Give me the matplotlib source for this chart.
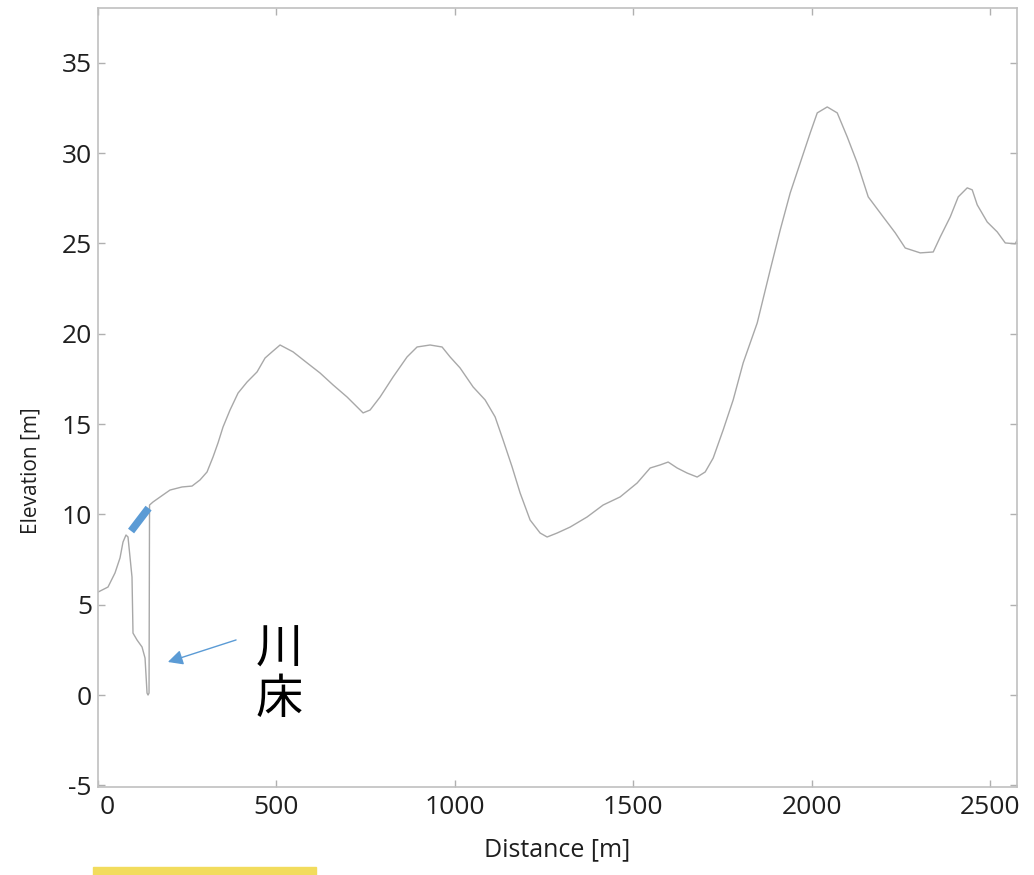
import numpy as np
import matplotlib.pyplot as plt
import matplotlib.patches as mpatches
import matplotlib.transforms as mtransforms

# elevation profile across the valley
distance = [1.4, 29.4, 49.0, 63.0, 71.4, 79.8, 85.4, 96.6, 99.4, 110.6, 124.7, 133.1, 138.7,
            141.5, 144.3, 145.7, 155.5, 183.5, 203.1, 236.7, 264.7, 287.1, 306.7, 323.5,
            337.5, 351.5, 371.1, 393.6, 418.8, 446.8, 469.2, 488.8, 511.2, 547.6, 586.8,
            623.2, 659.6, 698.9, 726.9, 743.7, 763.3, 791.3, 827.7, 866.9, 894.9, 931.3,
            964.9, 987.3, 1015.3, 1051.7, 1085.4, 1113.4, 1135.8, 1161.0, 1183.4, 1211.4,
            1239.5, 1259.1, 1287.1, 1323.5, 1371.1, 1415.9, 1463.6, 1511.2, 1547.6, 1575.6,
            1598.0, 1623.2, 1651.2, 1679.2, 1701.7, 1724.1, 1752.1, 1780.1, 1808.1, 1847.4,
            1883.8, 1911.8, 1939.8, 1967.8, 1995.8, 2015.5, 2043.5, 2071.5, 2099.5, 2127.5,
            2158.3, 2200.3, 2233.9, 2261.9, 2303.9, 2340.3, 2359.9, 2387.9, 2410.3, 2435.5,
            2449.5, 2463.5, 2491.5, 2519.6, 2542.0, 2570.0, 2575.6]
elevation = [5.70, 5.98, 6.76, 7.59, 8.47, 8.86, 8.75, 6.53, 3.43, 3.05, 2.66, 2.05, 0.11,
             0.0, 0.11, 10.52, 10.69, 11.08, 11.35, 11.52, 11.57, 11.91, 12.35, 13.18,
             13.96, 14.84, 15.78, 16.72, 17.33, 17.89, 18.66, 19.00, 19.38, 19.00, 18.39,
             17.83, 17.17, 16.50, 15.95, 15.62, 15.78, 16.50, 17.61, 18.72, 19.27, 19.38,
             19.27, 18.72, 18.11, 17.06, 16.34, 15.40, 14.12, 12.63, 11.19, 9.69,
             8.97, 8.75, 8.97, 9.30, 9.86, 10.52, 10.97, 11.74, 12.57, 12.74,
             12.90, 12.57, 12.29, 12.07, 12.35, 13.12, 14.68, 16.34, 18.39, 20.60,
             23.54, 25.75, 27.80, 29.46, 31.12, 32.23, 32.56, 32.23, 30.90, 29.46,
             27.58, 26.47, 25.59, 24.75, 24.48, 24.53, 25.36, 26.47, 27.58, 28.08,
             27.97, 27.14, 26.19, 25.64, 25.03, 24.98, 25.20]

# bank edge marker and river bed callout
bank_x = [94, 143]
bank_y = [9.08, 10.35]
label_text = '川\n床'
label_xy = (508, 1.16)
arrow_tail = (388, 3.05)
arrow_head = (197, 1.83)

xticks = [0, 500, 1000, 1500, 2000, 2500]
yticks = [-5, 0, 5, 10, 15, 20, 25, 30, 35]

plt.rcParams['font.family'] = ['Open Sans', 'DejaVu Sans']
plt.rcParams['axes.unicode_minus'] = False

fig = plt.figure(figsize=(10.34, 8.75), dpi=100)
ax = fig.add_axes([0.0943, 0.1006, 0.8893, 0.8903])

ax.plot(distance, elevation, color='#a8a8a8', lw=1.0)
ax.plot(bank_x, bank_y, color='#5b9bd5', lw=5.5, solid_capstyle='butt')

ax.annotate('', xy=arrow_head, xytext=arrow_tail,
            arrowprops=dict(arrowstyle='-|>,head_length=0.9,head_width=0.45',
                            color='#5b9bd5', lw=1.0, shrinkA=0, shrinkB=0))
ax.text(label_xy[0], label_xy[1], label_text, fontsize=34, ha='center', va='center',
        linespacing=1.05, family=['Noto Sans CJK JP', 'DejaVu Sans'])

ax.set_xlim(0, 2575)
ax.set_ylim(-5.09, 38.04)
ax.set_xticks(xticks)
ax.set_yticks(yticks)
ax.tick_params(direction='in', length=5, width=1, color='#b0b0b0',
               top=True, right=True, labelsize=19, labelcolor='#1e1e1e')
ax.tick_params(axis='x', pad=6)
ax.tick_params(axis='y', pad=4)
for s in ax.spines.values():
    s.set_color('#c0c0c0')
    s.set_linewidth(1.2)

# first distance label sits a little right of its tick
fig.canvas.draw()
lbl0 = ax.get_xticklabels()[0]
lbl0.set_transform(lbl0.get_transform() + mtransforms.ScaledTranslation(10 / 100, 0, fig.dpi_scale_trans))

ax.set_xlabel('Distance [m]', fontsize=18, color='#1e1e1e', labelpad=12)
ax.set_ylabel('Elevation [m]', fontsize=15, color='#1e1e1e')
ax.yaxis.set_label_coords(-0.061, 0.406)

# strip of a pasted image at the bottom edge
fig.patches.append(mpatches.Rectangle((93 / 1034, 0), 223 / 1034, 8 / 875,
                                      transform=fig.transFigure, color='#f2dc5d', zorder=5))

fig.savefig('out.png', dpi=100)
